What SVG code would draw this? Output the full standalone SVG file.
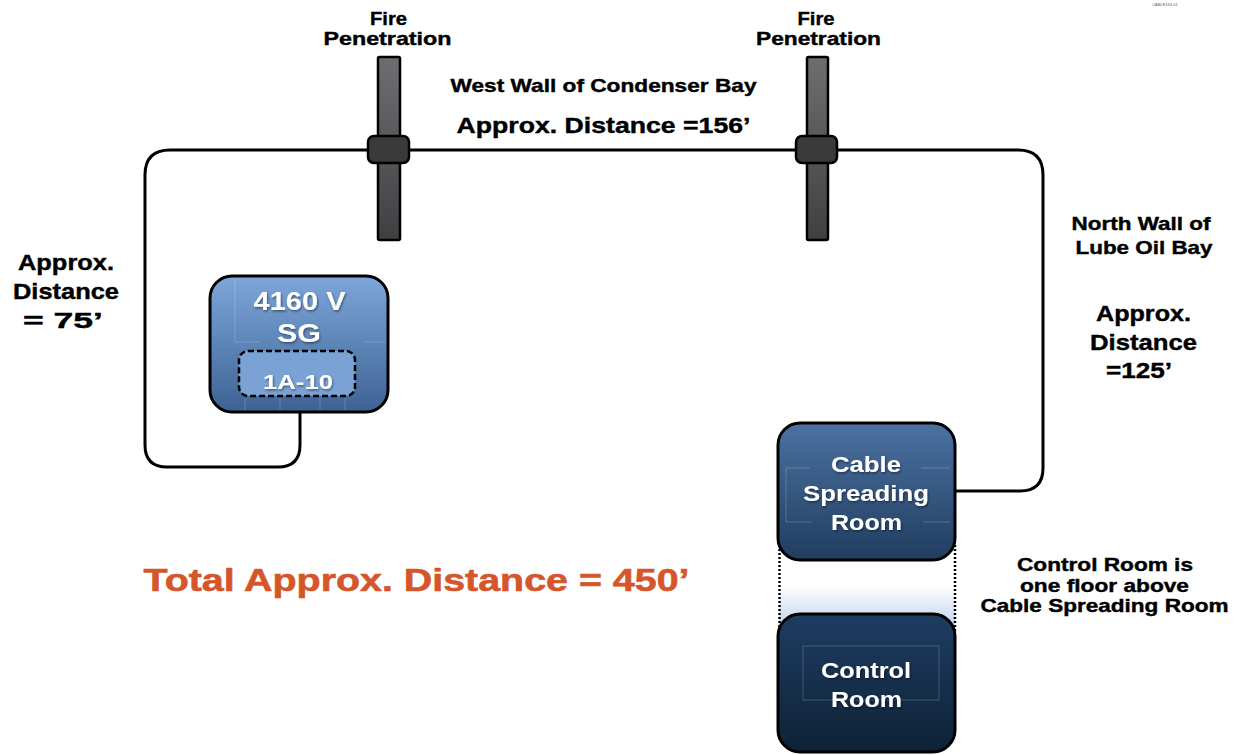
<svg xmlns="http://www.w3.org/2000/svg" width="1237" height="755" viewBox="0 0 1237 755">
<style>
.lbl{font-family:"Liberation Sans",Arial,sans-serif;font-weight:bold;fill:#000;stroke:#000;stroke-width:0.4;text-anchor:middle}
.s18{font-size:18.5px}
.s21{font-size:21.5px}
.wt{font-family:"Liberation Sans",Arial,sans-serif;font-weight:bold;fill:#fff;text-anchor:middle;filter:url(#sh)}
.cable{fill:none;stroke:#000;stroke-width:3}
.bar{fill:url(#gBar);stroke:#000;stroke-width:2.5}
.collar{fill:#3a3a3a;stroke:#000;stroke-width:2.5}
.faint{fill:none;stroke:#ffffff;stroke-opacity:0.2;stroke-width:1}
</style>
<defs>
<linearGradient id="gBar" x1="0" y1="0" x2="0" y2="1">
<stop offset="0" stop-color="#6e6e70"/><stop offset="1" stop-color="#404042"/>
</linearGradient>
<linearGradient id="gSG" x1="0" y1="0" x2="0" y2="1">
<stop offset="0" stop-color="#7ea6da"/><stop offset="1" stop-color="#3d6393"/>
</linearGradient>
<linearGradient id="gCSR" x1="0" y1="0" x2="0" y2="1">
<stop offset="0" stop-color="#4b72a2"/><stop offset="1" stop-color="#213d60"/>
</linearGradient>
<linearGradient id="gCR" x1="0" y1="0" x2="0" y2="1">
<stop offset="0" stop-color="#1f3d62"/><stop offset="1" stop-color="#0d2236"/>
</linearGradient>
<linearGradient id="gFade" x1="0" y1="0" x2="0" y2="1">
<stop offset="0" stop-color="#ffffff"/><stop offset="1" stop-color="#bcd0ea"/>
</linearGradient>
<filter id="sh" x="-20%" y="-20%" width="140%" height="140%">
<feDropShadow dx="1" dy="1.5" stdDeviation="1" flood-color="#000" flood-opacity="0.45"/>
</filter>
</defs>
<rect width="1237" height="755" fill="#fff"/>
<text x="1165" y="6" font-family="Liberation Sans,Arial,sans-serif" font-size="4" fill="#555" text-anchor="middle">CABLE194-01</text>

<g id="connectors">
<path class="cable" d="M300,395 V445 Q300,467 278,467 H167 Q145,467 145,445 V175 Q145,150 170,150 H1018 Q1043,150 1043,175 V468 Q1043,491 1020,491 H955"/>
<rect x="779" y="585" width="176" height="45" fill="url(#gFade)"/>
<line x1="779.5" y1="545" x2="779.5" y2="632" stroke="#000" stroke-width="2.5" stroke-dasharray="2,2"/>
<line x1="955" y1="545" x2="955" y2="632" stroke="#000" stroke-width="2.5" stroke-dasharray="2,2"/>
</g>

<g id="fire-pen-1">
<rect class="bar" x="378" y="57" width="22" height="183" rx="1.5"/>
<rect class="collar" x="368" y="136" width="41" height="27" rx="6"/>
<text class="lbl s18" x="388.5" y="25" textLength="37" lengthAdjust="spacingAndGlyphs">Fire</text>
<text class="lbl s18" x="387.5" y="45" textLength="128" lengthAdjust="spacingAndGlyphs">Penetration</text>
</g>

<g id="fire-pen-2">
<rect class="bar" x="807" y="57" width="21" height="183" rx="1.5"/>
<rect class="collar" x="796" y="136" width="41" height="27" rx="6"/>
<text class="lbl s18" x="816" y="25" textLength="37" lengthAdjust="spacingAndGlyphs">Fire</text>
<text class="lbl s18" x="818.5" y="45" textLength="125" lengthAdjust="spacingAndGlyphs">Penetration</text>
</g>

<g id="labels">
<text class="lbl s18" x="603.5" y="92" textLength="306" lengthAdjust="spacingAndGlyphs">West Wall of Condenser Bay</text>
<text class="lbl s21" x="603.5" y="133" textLength="294" lengthAdjust="spacingAndGlyphs">Approx. Distance =156’</text>
<text class="lbl s18" x="1141" y="230" textLength="139" lengthAdjust="spacingAndGlyphs">North Wall of</text>
<text class="lbl s18" x="1144" y="254" textLength="137" lengthAdjust="spacingAndGlyphs">Lube Oil Bay</text>
<text class="lbl s21" x="1143.5" y="321" textLength="95" lengthAdjust="spacingAndGlyphs">Approx.</text>
<text class="lbl s21" x="1143.5" y="350" textLength="107" lengthAdjust="spacingAndGlyphs">Distance</text>
<text class="lbl s21" x="1139" y="378" textLength="66" lengthAdjust="spacingAndGlyphs">=125’</text>
<text class="lbl s21" x="66" y="270" textLength="96" lengthAdjust="spacingAndGlyphs">Approx.</text>
<text class="lbl s21" x="66" y="299" textLength="106" lengthAdjust="spacingAndGlyphs">Distance</text>
<text class="lbl s21" x="63" y="328" textLength="80" lengthAdjust="spacingAndGlyphs">= 75’</text>
<text class="lbl s18" x="1105" y="571" textLength="176" lengthAdjust="spacingAndGlyphs">Control Room is</text>
<text class="lbl s18" x="1104.5" y="592" textLength="169" lengthAdjust="spacingAndGlyphs">one floor above</text>
<text class="lbl s18" x="1104.5" y="612" textLength="248" lengthAdjust="spacingAndGlyphs">Cable Spreading Room</text>
<text x="416.5" y="591" font-family="Liberation Sans,Arial,sans-serif" font-weight="bold" font-size="32" fill="#d5562a" stroke="#d5562a" stroke-width="0.6" text-anchor="middle" textLength="546" lengthAdjust="spacingAndGlyphs">Total Approx. Distance = 450’</text>
</g>

<g id="sg-4160">
<rect x="210" y="276" width="178" height="136" rx="22" fill="url(#gSG)" stroke="#000" stroke-width="3"/>
<path class="faint" d="M235,278 V342 H260 M365,342 H385 M245,398 V410 M280,398 V410 M320,398 V410 M345,398 V410"/>
<text class="wt" x="299.5" y="310" font-size="25" textLength="92" lengthAdjust="spacingAndGlyphs">4160 V</text>
<text class="wt" x="299" y="342" font-size="25" textLength="44" lengthAdjust="spacingAndGlyphs">SG</text>
<rect x="239" y="351" width="116" height="45" rx="9" fill="#7aa2d4" stroke="#000" stroke-width="2.5" stroke-dasharray="6,3"/>
<text class="wt" x="298" y="389" font-size="21" textLength="70" lengthAdjust="spacingAndGlyphs">1A-10</text>
</g>

<g id="cable-spreading-room">
<rect x="778" y="423" width="177" height="137" rx="22" fill="url(#gCSR)" stroke="#000" stroke-width="3"/>
<path class="faint" d="M810,468 H786 V522 H812 M921,468 H950 M923,522 H950"/>
<text class="wt" x="866" y="472" font-size="22.5" textLength="70" lengthAdjust="spacingAndGlyphs">Cable</text>
<text class="wt" x="866" y="501" font-size="22.5" textLength="126" lengthAdjust="spacingAndGlyphs">Spreading</text>
<text class="wt" x="866.5" y="530" font-size="22.5" textLength="71" lengthAdjust="spacingAndGlyphs">Room</text>
</g>

<g id="control-room">
<rect x="778" y="614" width="177" height="138" rx="22" fill="url(#gCR)" stroke="#000" stroke-width="3"/>
<rect class="faint" x="803" y="646" width="136" height="54"/>
<text class="wt" x="866" y="678" font-size="22.5" textLength="90" lengthAdjust="spacingAndGlyphs">Control</text>
<text class="wt" x="866.5" y="707" font-size="22.5" textLength="71" lengthAdjust="spacingAndGlyphs">Room</text>
</g>
</svg>
